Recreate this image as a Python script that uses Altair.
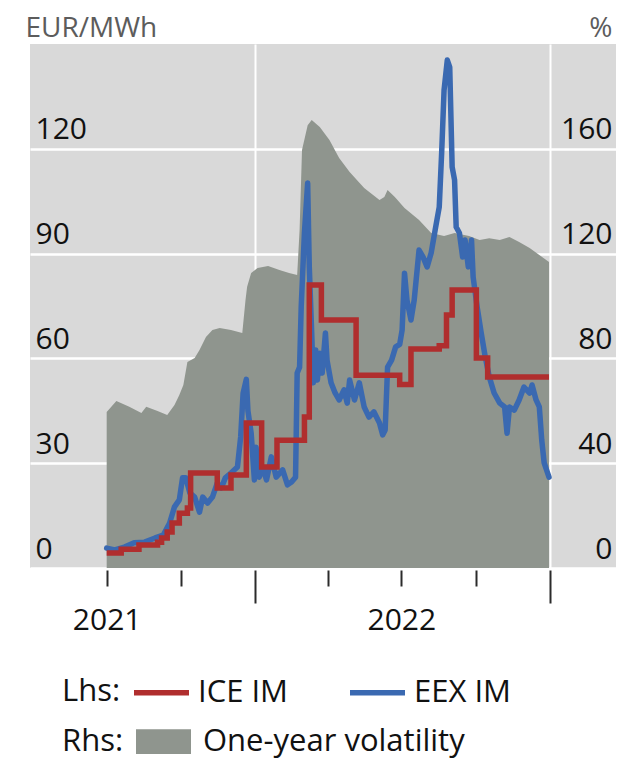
import altair as alt
import pandas as pd

FONT = "Open Sans"

# ---- data ----
ice_dates = ["2021-07-01", "2021-07-19", "2021-08-10", "2021-09-02", "2021-09-07", "2021-09-14",
             "2021-09-20", "2021-09-29", "2021-10-09", "2021-10-13", "2021-11-15", "2021-12-02",
             "2021-12-21", "2022-01-09", "2022-01-28", "2022-03-03", "2022-03-09", "2022-03-24",
             "2022-05-06", "2022-06-29", "2022-07-13", "2022-08-17", "2022-08-26", "2022-09-02",
             "2022-10-02", "2022-10-16", "2022-12-31"]
ice_values = [4.3, 5.4, 6.6, 7.4, 8.6, 10.3, 12.9, 15.7, 17.2, 27.2, 22.9, 26.6, 41.5, 28.9, 36.6,
              43.2, 81.0, 71.0, 55.2, 52.5, 62.7, 63.6, 72.4, 79.6, 60.1, 54.7, 54.7]

eex_dates = ["2021-07-01", "2021-07-11", "2021-07-23", "2021-08-04", "2021-08-17", "2021-08-30",
             "2021-09-09", "2021-09-17", "2021-09-23", "2021-09-29", "2021-10-03", "2021-10-07",
             "2021-10-12", "2021-10-18", "2021-10-24", "2021-10-28", "2021-11-03", "2021-11-09",
             "2021-11-15", "2021-11-20", "2021-11-25", "2021-12-02", "2021-12-10", "2021-12-14",
             "2021-12-17", "2021-12-21", "2021-12-23", "2021-12-27", "2021-12-31", "2022-01-02",
             "2022-01-06", "2022-01-10", "2022-01-15", "2022-01-21", "2022-01-27", "2022-02-04",
             "2022-02-10", "2022-02-15", "2022-02-20", "2022-02-22", "2022-02-25", "2022-02-27",
             "2022-03-03", "2022-03-07", "2022-03-09", "2022-03-12", "2022-03-14", "2022-03-17",
             "2022-03-19", "2022-03-22", "2022-03-25", "2022-03-29", "2022-03-31", "2022-04-05",
             "2022-04-10", "2022-04-15", "2022-04-21", "2022-04-25", "2022-04-28", "2022-05-04",
             "2022-05-10", "2022-05-16", "2022-05-22", "2022-05-28", "2022-06-04", "2022-06-08",
             "2022-06-11", "2022-06-14", "2022-06-19", "2022-06-24", "2022-06-29", "2022-07-02",
             "2022-07-05", "2022-07-08", "2022-07-13", "2022-07-17", "2022-07-23", "2022-07-28",
             "2022-08-02", "2022-08-07", "2022-08-12", "2022-08-17", "2022-08-20", "2022-08-23",
             "2022-08-27", "2022-08-30", "2022-09-02", "2022-09-05", "2022-09-07", "2022-09-11",
             "2022-09-15", "2022-09-18", "2022-09-22", "2022-09-26", "2022-09-28", "2022-10-03",
             "2022-10-08", "2022-10-13", "2022-10-18", "2022-10-24", "2022-10-31", "2022-11-06",
             "2022-11-09", "2022-11-12", "2022-11-18", "2022-11-24", "2022-11-30", "2022-12-07",
             "2022-12-10", "2022-12-15", "2022-12-19", "2022-12-22", "2022-12-25", "2022-12-31"]
eex_values = [5.7, 5.2, 6.0, 7.2, 7.4, 8.6, 9.4, 12.9, 17.5, 19.5, 25.8, 25.8, 21.5, 20.3, 16.0,
              20.3, 18.6, 20.3, 24.3, 22.9, 25.8, 27.2, 28.9, 37.5, 50.0, 54.0, 45.0, 38.6, 25.2,
              34.6, 26.0, 28.9, 25.2, 31.8, 26.0, 28.1, 23.8, 24.6, 26.0, 55.8, 57.5, 74.7, 95.9,
              110.2, 86.2, 67.3, 53.0, 62.4, 53.8, 61.5, 55.8, 67.3, 59.5, 53.0, 50.1, 48.1, 51.0,
              47.2, 53.8, 48.1, 53.0, 46.1, 43.2, 44.7, 41.5, 38.1, 39.5, 57.5, 59.5, 63.3, 64.0,
              68.1, 84.4, 76.7, 71.0, 76.7, 91.0, 89.0, 86.2, 90.2, 96.8, 103.3, 118.8, 136.8,
              145.4, 143.4, 114.8, 111.1, 97.6, 95.9, 89.0, 93.9, 86.2, 93.9, 83.3, 74.7, 67.3,
              60.4, 54.7, 50.1, 47.2, 46.1, 38.6, 46.1, 45.2, 48.1, 51.8, 50.1, 52.4, 48.1, 46.1,
              36.6, 30.1, 26.0]

vol_dates = ["2021-07-01", "2021-07-13", "2021-07-29", "2021-08-13", "2021-08-19", "2021-09-02",
             "2021-09-14", "2021-09-23", "2021-09-29", "2021-10-04", "2021-10-09", "2021-10-18",
             "2021-10-24", "2021-11-01", "2021-11-09", "2021-11-18", "2021-12-02", "2021-12-16",
             "2021-12-20", "2021-12-22", "2021-12-27", "2022-01-04", "2022-01-17", "2022-01-31",
             "2022-02-12", "2022-02-22", "2022-02-25", "2022-02-28", "2022-03-07", "2022-03-12",
             "2022-03-22", "2022-04-03", "2022-04-15", "2022-04-28", "2022-05-16", "2022-06-04",
             "2022-06-10", "2022-06-14", "2022-06-23", "2022-07-05", "2022-07-23", "2022-08-07",
             "2022-08-23", "2022-09-05", "2022-09-23", "2022-10-06", "2022-10-18", "2022-10-31",
             "2022-11-12", "2022-11-24", "2022-12-07", "2022-12-19", "2022-12-31"]
vol_values = [59.5, 63.7, 61.5, 59.2, 61.5, 59.9, 58.4, 62.2, 66.0, 69.8, 78.6, 80.2, 83.2, 88.2,
              90.8, 91.6, 90.8, 89.7, 102.3, 107.3, 112.6, 114.5, 115.3, 113.7, 112.6, 111.8,
              129.0, 159.5, 169.0, 171.0, 168.3, 163.4, 156.5, 151.1, 145.0, 140.5, 141.6, 144.3,
              141.6, 137.4, 132.8, 127.9, 126.7, 127.9, 126.7, 125.2, 125.9, 125.2, 126.3, 124.4,
              122.1, 119.5, 116.8]

left_ticks = [0, 30, 60, 90, 120]
right_ticks = [0, 40, 80, 120, 160]
quarter_ticks = [(2021, 7), (2021, 10), (2022, 1), (2022, 4), (2022, 7), (2022, 10), (2023, 1)]

ice_df = pd.DataFrame({"date": ice_dates, "value": ice_values, "series": "ICE IM"})
eex_df = pd.DataFrame({"date": eex_dates, "value": eex_values, "series": "EEX IM"})
vol_df = pd.DataFrame({"date": vol_dates, "value": vol_values, "series": "One-year volatility"})

RED = "#B02E2E"
BLUE = "#3A69B1"
GREY = "#8F958E"
LABEL_SIZE = 30
LEGEND_SIZE = 31

x_enc = alt.X(
    "date:T",
    scale=alt.Scale(type="utc", domain=[alt.DateTime(year=2021, month=3, date=28, utc=True),
                                        alt.DateTime(year=2023, month=3, date=24, utc=True)]),
    axis=alt.Axis(
        values=[alt.DateTime(year=y, month=m, date=1, utc=True) for y, m in quarter_ticks],
        title=None, domain=False, offset=2,
        tickColor="#2b2b2b", tickWidth=2,
        tickSize={"condition": {"test": "utcmonth(datum.value) == 0", "value": 33}, "value": 16},
        grid=True, gridColor="white", gridWidth=2,
        gridOpacity={"condition": {"test": "utcmonth(datum.value) == 0", "value": 1}, "value": 0},
        labelExpr="utcmonth(datum.value) == 6 ? '' + utcyear(datum.value) : ''",
        labelFont=FONT, labelFontSize=LABEL_SIZE, labelColor="#111111", labelPadding=19,
        labelFlush=False,
    ),
)

y_left = alt.Y(
    "value:Q",
    scale=alt.Scale(domain=[0, 150]),
    axis=alt.Axis(
        orient="left", values=left_ticks, title="EUR/MWh", titleAngle=0, titleAlign="left",
        titleBaseline="alphabetic", titleX=-5, titleY=-8, titleFont=FONT, titleFontSize=28,
        titleFontWeight="normal", titleColor="#5c5c5c",
        domain=False, ticks=False, grid=True, gridColor="white", gridWidth=2.5,
        labelAlign="left", labelBaseline="alphabetic", labelPadding=-5, labelOffset=-10,
        labelFont=FONT, labelFontSize=LABEL_SIZE, labelColor="#111111",
    ),
)

y_right = alt.Y(
    "value:Q",
    scale=alt.Scale(domain=[0, 200]),
    axis=alt.Axis(
        orient="right", values=right_ticks, title="%", titleAngle=0, titleAlign="right",
        titleBaseline="alphabetic", titleX=-4, titleY=-8, titleFont=FONT, titleFontSize=28,
        titleFontWeight="normal", titleColor="#5c5c5c",
        domain=False, ticks=False, grid=False,
        labelAlign="right", labelBaseline="alphabetic", labelPadding=-4, labelOffset=-10,
        labelFont=FONT, labelFontSize=LABEL_SIZE, labelColor="#111111",
    ),
)

line_legend = alt.Legend(
    orient="none", legendX=32, legendY=618, direction="horizontal",
    title="Lhs:", titleOrient="left", titleFont=FONT, titleFontSize=LEGEND_SIZE,
    titleFontWeight="normal", titleColor="#111111", titlePadding=10,
    titleBaseline="line-top", titleLineHeight=14, titleAnchor="middle",
    labelFont=FONT, labelFontSize=LEGEND_SIZE, labelColor="#111111", labelOffset=6,
    labelLimit=400,
    symbolType="stroke", symbolSize=3025, symbolStrokeWidth=5.5, columnPadding=50,
)

fill_legend = alt.Legend(
    orient="none", legendX=32, legendY=670, direction="horizontal",
    title="Rhs:", titleOrient="left", titleFont=FONT, titleFontSize=LEGEND_SIZE,
    titleFontWeight="normal", titleColor="#111111", titlePadding=12,
    titleBaseline="line-top", titleLineHeight=14, titleAnchor="middle",
    labelFont=FONT, labelFontSize=LEGEND_SIZE, labelColor="#111111", labelOffset=12,
    labelLimit=400,
    symbolType="M-1,-0.45L1,-0.45L1,0.45L-1,0.45Z", symbolSize=3025, symbolStrokeWidth=0,
    symbolOpacity=1,
)

color_scale = alt.Scale(domain=["ICE IM", "EEX IM"], range=[RED, BLUE])

area = alt.Chart(vol_df).mark_area(opacity=1, strokeWidth=0).encode(
    x=x_enc,
    y=y_right,
    fill=alt.Fill("series:N", scale=alt.Scale(domain=["One-year volatility"], range=[GREY]),
                  legend=fill_legend),
)

eex = alt.Chart(eex_df).mark_line(strokeWidth=5.5, strokeJoin="round", strokeCap="round").encode(
    x=x_enc, y=y_left,
    color=alt.Color("series:N", scale=color_scale, legend=line_legend),
)

ice = alt.Chart(ice_df).mark_line(strokeWidth=5.5, interpolate="step-after", strokeCap="butt").encode(
    x=x_enc, y=y_left,
    color=alt.Color("series:N", scale=color_scale, legend=line_legend),
)

chart = (
    alt.layer(area, alt.layer(eex, ice))
    .resolve_scale(y="independent")
    .properties(
        width=586, height=524,
        padding={"left": 22, "top": 36, "right": 0, "bottom": 193},
        autosize=alt.AutoSizeParams(type="none"),
    )
    .configure_view(fill="#D9D9D9", strokeWidth=0)
)

chart.save("out.html", embed_options={"renderer": "svg", "actions": False})
